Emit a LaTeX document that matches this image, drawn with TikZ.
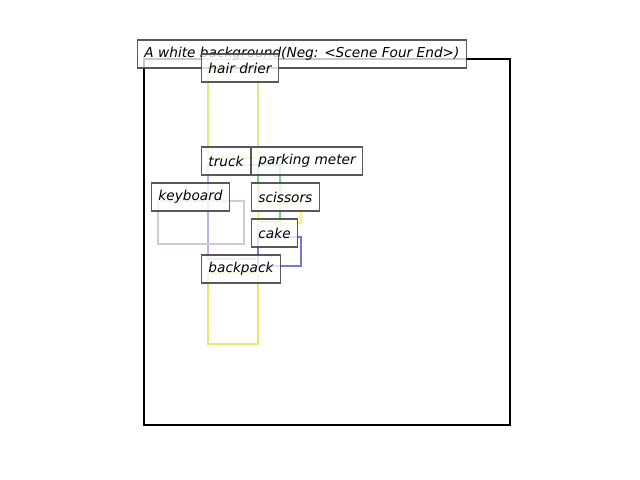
\documentclass[tikz,border=0pt]{standalone}
\usepackage{fontspec}
\setmainfont{DejaVu Sans}
\definecolor{clime}{RGB}{208,240,128}
\definecolor{clav}{RGB}{192,176,232}
\definecolor{cgreen}{RGB}{112,216,128}
\definecolor{cyel}{RGB}{248,248,112}
\definecolor{cblue}{RGB}{120,120,216}
\definecolor{cbyel}{RGB}{232,232,112}
\definecolor{ckey}{RGB}{216,200,204}
\begin{document}
\begin{tikzpicture}[x=0.72pt,y=-0.72pt,
  lbl/.style={draw=black!72, draw opacity=0.9, fill=white, fill opacity=0.78, text opacity=1,
    anchor=west, inner xsep=5pt, inner ysep=0pt, minimum height=20.16pt,
    font=\itshape\fontsize{9.85}{12}\selectfont, line width=0.75pt},
  bbox/.style={line width=2.1pt}]
\useasboundingbox (0,0) rectangle (640,480);
\draw[bbox, black, line width=1.8pt] (144,59) rectangle (510,425);
\draw[bbox, clime] (208,72) rectangle (258,158);
\draw[bbox, clav] (208,165) rectangle (258,259);
\draw[bbox, cgreen] (258,165) rectangle (280,222);
\draw[bbox, ckey] (158,201) rectangle (244,244);
\draw[bbox, cyel] (258,201) rectangle (301,223);
\draw[bbox, cblue] (258,237) rectangle (301,266);
\draw[bbox, cbyel] (208,273) rectangle (258,344);
\node[lbl] (bg) at (137,54) {A white background(Neg: <Scene Four End>)};
\node[lbl] (hd) at (201,68) {hair drier};
\node[lbl] (tr) at (201,161) {truck};
\node[lbl] (pm) at (251,161) {parking meter};
\node[lbl] (kb) at (151,197) {keyboard};
\node[lbl] (sc) at (251,197) {scissors};
\node[lbl] (ck) at (251,233) {cake};
\node[lbl] (bp) at (201,269) {backpack};
\end{tikzpicture}
\end{document}
